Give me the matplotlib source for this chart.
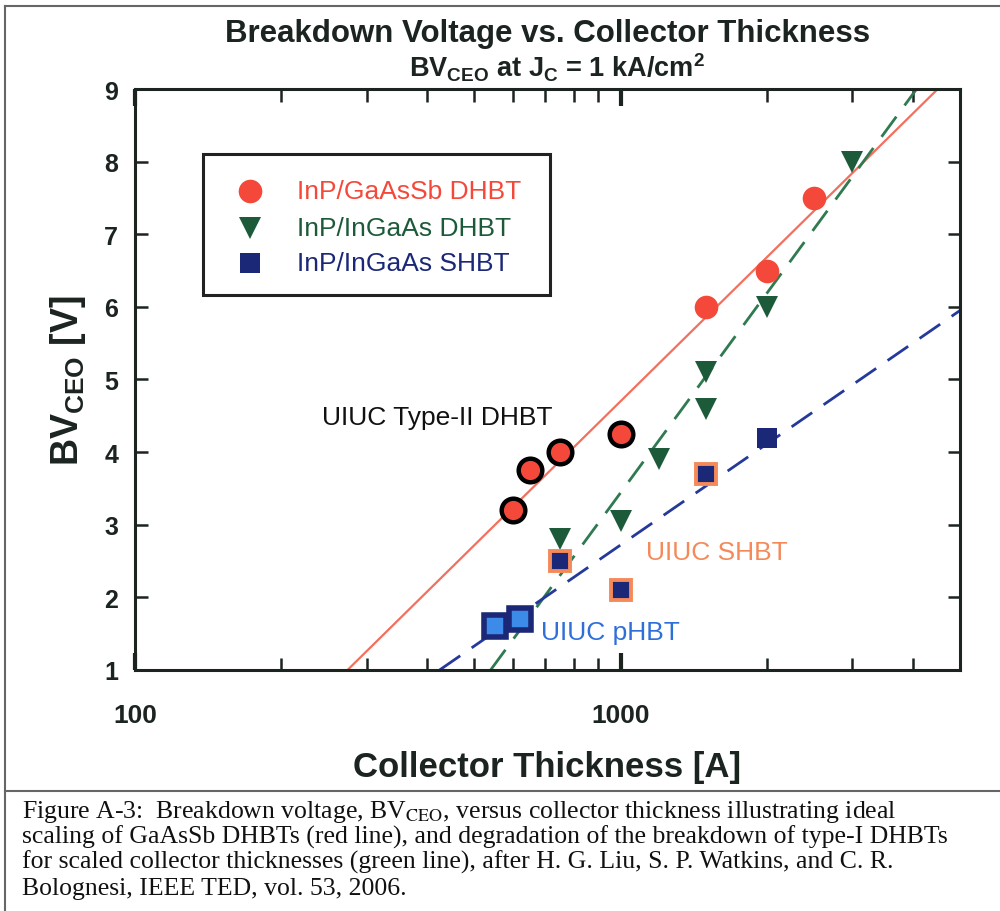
import matplotlib
matplotlib.use("Agg")
import matplotlib.pyplot as plt
from matplotlib.lines import Line2D
from matplotlib.patches import Rectangle
from matplotlib.ticker import LogLocator, NullFormatter, FixedLocator, FixedFormatter

plt.rcParams['font.family'] = ['Liberation Sans', 'DejaVu Sans']
plt.rcParams['mathtext.fontset'] = 'custom'
plt.rcParams['mathtext.rm'] = 'Liberation Sans:bold'
plt.rcParams['mathtext.bf'] = 'Liberation Sans:bold'
plt.rcParams['mathtext.it'] = 'Liberation Sans:bold'
plt.rcParams['mathtext.default'] = 'rm'

# ---- data: collector thickness [A] and BVCEO [V] ----
gaassb_x = [600, 650, 750, 1000, 1500, 2000, 2500]
gaassb_y = [3.2, 3.75, 4.0, 4.25, 6.0, 6.5, 7.5]
gaassb_uiuc = [True, True, True, True, False, False, False]

ingaas_dhbt_x = [750, 1000, 1200, 1500, 1500, 2000, 3000]
ingaas_dhbt_y = [2.8, 3.05, 3.9, 5.1, 4.6, 6.0, 8.0]

ingaas_shbt_x = [550, 620, 750, 1000, 1500, 2000]
ingaas_shbt_y = [1.6, 1.7, 2.5, 2.1, 3.7, 4.2]
shbt_group = ['phbt', 'phbt', 'shbt', 'shbt', 'shbt', 'plain']

# trend lines (end points)
red_fit_x = [274, 4500]
red_fit_y = [1.0, 9.0]
green_fit_x = [540, 4070]
green_fit_y = [1.0, 9.0]
blue_fit_x = [424, 5000]
blue_fit_y = [1.0, 5.95]

legend_labels = ['InP/GaAsSb DHBT', 'InP/InGaAs DHBT', 'InP/InGaAs SHBT']
y_ticks = [1, 2, 3, 4, 5, 6, 7, 8, 9]
x_ticks = [100, 1000]
x_tick_labels = ['100', '1000']

caption_lines = [
    r"Figure A-3:  Breakdown voltage, BV$_{\mathrm{CEO}}$, versus collector thickness illustrating ideal",
    "scaling of GaAsSb DHBTs (red line), and degradation of the breakdown of type-I DHBTs",
    "for scaled collector thicknesses (green line), after H. G. Liu, S. P. Watkins, and C. R.",
    "Bolognesi, IEEE TED, vol. 53, 2006.",
]

RED = '#f4493a'
RED_LINE = '#f2705e'
GREEN = '#1d5a3a'
GREEN_LINE = '#2f7a50'
NAVY = '#1b2878'
BLUE_LINE = '#24399a'
LIGHT_BLUE = '#3d8be8'
ORANGE = '#f48a5a'
PHBT_TEXT = '#2f6fd8'
INK = '#1c2420'

fig = plt.figure(figsize=(10, 9.12), dpi=100)
ax = fig.add_axes([0.135, 0.2643, 0.825, 0.637])

ax.set_xscale('log')
ax.set_xlim(100, 5000)
ax.set_ylim(1, 9)

# trend lines
ax.plot(red_fit_x, red_fit_y, color=RED_LINE, lw=1.6, zorder=2)
ax.plot(green_fit_x, green_fit_y, color=GREEN_LINE, lw=2.0, dashes=(9, 5), zorder=2)
ax.plot(blue_fit_x, blue_fit_y, color=BLUE_LINE, lw=2.0, dashes=(9, 5), zorder=2)

# InP/GaAsSb DHBT circles
for x, y, u in zip(gaassb_x, gaassb_y, gaassb_uiuc):
    if u:
        ax.plot(x, y, 'o', ms=17, mfc=RED, mec='black', mew=3.2, zorder=5)
    else:
        ax.plot(x, y, 'o', ms=17, mfc=RED, mec=RED, mew=0, zorder=5)

# InP/InGaAs DHBT triangles
ax.plot(ingaas_dhbt_x, ingaas_dhbt_y, 'v', ms=16, mfc=GREEN, mec=GREEN, mew=0,
        ls='none', zorder=5)

# InP/InGaAs SHBT squares
for x, y, g in zip(ingaas_shbt_x, ingaas_shbt_y, shbt_group):
    if g == 'phbt':
        ax.plot(x, y, 's', ms=16, mfc=LIGHT_BLUE, mec=NAVY, mew=4, zorder=5)
    elif g == 'shbt':
        ax.plot(x, y, 's', ms=14, mfc=NAVY, mec=ORANGE, mew=2.8, zorder=5)
    else:
        ax.plot(x, y, 's', ms=15, mfc=NAVY, mec=NAVY, mew=0, zorder=5)

# annotations
ax.text(243, 4.48, 'UIUC Type-II DHBT', fontsize=19, color='#111111', ha='left', va='center')
ax.text(1129, 2.62, 'UIUC SHBT', fontsize=19, color=ORANGE, ha='left', va='center')
ax.text(687, 1.52, 'UIUC pHBT', fontsize=19, color=PHBT_TEXT, ha='left', va='center')

# legend box (axes-fraction layout)
leg_box = Rectangle((0.0824, 0.6454), 0.4206, 0.2426, transform=ax.transAxes,
                    facecolor='white', edgecolor='#222222', lw=2.2, zorder=6)
ax.add_patch(leg_box)
leg_marker_x = 0.1394
leg_text_x = 0.1964
leg_rows = [0.8244, 0.7608, 0.7005]
leg_styles = [
    dict(marker='o', ms=17, mfc=RED, mec=RED, mew=0),
    dict(marker='v', ms=16, mfc=GREEN, mec=GREEN, mew=0),
    dict(marker='s', ms=15, mfc=NAVY, mec=NAVY, mew=0),
]
leg_colors = [RED, GREEN, NAVY]
for yr, st, lab, col in zip(leg_rows, leg_styles, legend_labels, leg_colors):
    ax.plot([leg_marker_x], [yr], ls='none', transform=ax.transAxes, zorder=7,
            clip_on=False, **st)
    ax.text(leg_text_x, yr, lab, transform=ax.transAxes, fontsize=19, color=col,
            ha='left', va='center', zorder=7)

# axes styling
for s in ax.spines.values():
    s.set_linewidth(2.2)
    s.set_color(INK)
ax.yaxis.set_major_locator(FixedLocator(y_ticks))
ax.xaxis.set_major_locator(FixedLocator(x_ticks))
ax.xaxis.set_major_formatter(FixedFormatter(x_tick_labels))
ax.xaxis.set_minor_locator(LogLocator(base=10, subs=range(2, 10)))
ax.xaxis.set_minor_formatter(NullFormatter())
ax.tick_params(axis='both', which='both', direction='in', top=True, right=True, color=INK,
               labelcolor=INK)
ax.tick_params(axis='x', which='major', length=12, width=3, pad=24, labelsize=19)
ax.tick_params(axis='x', which='minor', length=9, width=1.8)
ax.tick_params(axis='y', which='major', length=9, width=1.8, pad=12, labelsize=18)
for lbl in ax.get_xticklabels() + ax.get_yticklabels():
    lbl.set_fontweight('bold')

ax.set_xlabel('Collector Thickness [A]', fontsize=25, fontweight='bold', labelpad=16, color=INK)
ax.set_ylabel(r'BV$_{\mathrm{CEO}}$ [V]', fontsize=27, fontweight='bold', labelpad=12, color=INK)

# titles
fig.text(0.548, 0.963, 'Breakdown Voltage vs. Collector Thickness', fontsize=22.5,
         fontweight='bold', ha='center', va='center', color=INK)
fig.text(0.557, 0.926, r'BV$_{\mathrm{CEO}}$ at J$_{\mathrm{C}}$ = 1 kA/cm$^{2}$', fontsize=19.5,
         fontweight='bold', ha='center', va='center', color=INK)

# frame lines around figure and caption
fig.add_artist(Line2D([0.005, 0.005], [0.0, 0.992], color='#666666', lw=1.5))
fig.add_artist(Line2D([0.005, 1.0], [0.992, 0.992], color='#666666', lw=1.5))
fig.add_artist(Line2D([0.005, 1.0], [0.132, 0.132], color='#666666', lw=1.5))

# caption
ys = [0.1031, 0.0746, 0.0471, 0.0186]
for t, y in zip(caption_lines, ys):
    fig.text(0.022, y, t, fontsize=18.5, family='Liberation Serif', ha='left', va='baseline',
             math_fontfamily='stix', color='#111111')

fig.savefig('out.png', dpi=100)
